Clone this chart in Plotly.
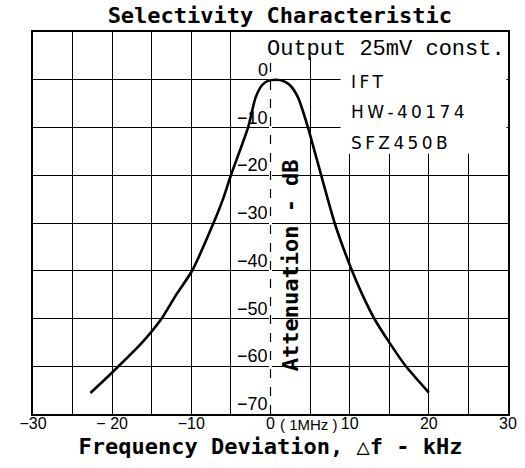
import plotly.graph_objects as go

# Curve data (kHz deviation, attenuation dB)
freq_khz = [-22.75, -20.0, -16.2, -13.75, -11.9, -9.9, -7.2, -6.0, -5.0, -2.8, -1.9, -1.1,
            -0.4, 0.65, 1.7, 2.5, 3.5, 4.7, 6.4, 8.1, 10.3, 11.6, 13.1, 15.0, 17.1, 20.0]
atten_db = [-65.6, -61.3, -55, -50, -45, -40, -30, -25, -20, -9.8, -3.8, -1.2,
            -0.3, 0, -0.3, -1.2, -3.8, -9.8, -20, -30, -40, -45, -50, -55, -60, -65.5]

x_tick_vals = [-30, -25, -20, -15, -10, -5, 0, 5, 10, 15, 20, 25, 30]
x_tick_text = ["−30", "", "− 20", "", "−10", "", "0", "", "10", "", "20", "", "30"]
y_label_vals = [0, -10, -20, -30, -40, -50, -60, -70]
y_label_text = ["0", "−10", "−20", "−30", "−40", "−50", "−60", "−70"]
legend_lines = ["IFT", "HW-40174", "SFZ450B"]
legend_levels = [-0.4, -6.7, -13.2]

MONO_B = "DejaVu Sans Mono"
MONO = "Liberation Mono"
SANS = "Liberation Sans"

fig = go.Figure()
fig.add_trace(go.Scatter(x=freq_khz, y=atten_db, mode="lines",
                         line=dict(color="black", width=2.6, shape="spline", smoothing=0.6),
                         hoverinfo="skip", showlegend=False))

shapes = [
    dict(type="rect", xref="x", yref="y", x0=-0.6, x1=29.8, y0=4.8, y1=10,
         fillcolor="white", line=dict(width=0), layer="between"),
    dict(type="rect", xref="x", yref="y", x0=8.85, x1=29.8, y0=-15.5, y1=10,
         fillcolor="white", line=dict(width=0), layer="between"),
    dict(type="line", xref="x", yref="y", x0=0, x1=0, y0=-70, y1=4.8,
         line=dict(color="white", width=3), layer="between"),
    dict(type="line", xref="x", yref="y", x0=0, x1=0, y0=-70, y1=4.8,
         line=dict(color="black", width=1.2, dash="dash"), layer="between"),
]

annotations = []
for v, t in zip(y_label_vals, y_label_text):
    annotations.append(dict(x=0, y=v, xref="x", yref="y", text=t, showarrow=False,
                            xanchor="right", yanchor="bottom", xshift=-1, yshift=-2,
                            font=dict(family=SANS, size=18, color="black")))
annotations.append(dict(x=0, y=0, xref="x", yref="paper", text="( 1MHz )", showarrow=False,
                        xanchor="left", yanchor="top", xshift=7, yshift=0,
                        font=dict(family=SANS, size=15, color="black")))
annotations.append(dict(x=29.9, y=6.3, xref="x", yref="y", text="Output 25mV const.",
                        showarrow=False, xanchor="right", yanchor="middle",
                        font=dict(family=MONO, size=22, color="black")))
for t, lv in zip(legend_lines, legend_levels):
    annotations.append(dict(x=9.9, y=lv, xref="x", yref="y", text="\u2009".join(t),
                            showarrow=False, xanchor="left", yanchor="middle",
                            font=dict(family="DejaVu Sans", size=17, color="black")))
annotations.append(dict(x=2.5, y=-38.8, xref="x", yref="y", text="<b>Attenuation - dB</b>",
                        showarrow=False, textangle=-90, xanchor="center", yanchor="middle",
                        font=dict(family=MONO_B, size=22, color="black")))

fig.update_layout(
    width=525, height=468,
    margin=dict(l=33, r=17, t=32, b=54, autoexpand=False),
    paper_bgcolor="white", plot_bgcolor="white",
    title=dict(text="<b>Selectivity Characteristic</b>", x=0.533, xanchor="center",
               y=1 - 15 / 468, yanchor="middle",
               font=dict(family=MONO_B, size=22, color="black")),
    xaxis=dict(range=[-30, 30], tickvals=x_tick_vals, ticktext=x_tick_text,
               showgrid=True, gridcolor="black", gridwidth=1.4, zeroline=False,
               showline=True, mirror=True, linecolor="black", linewidth=2,
               ticks="", automargin=False, ticklabelstandoff=-6,
               tickfont=dict(family=SANS, size=16, color="black"),
               title=dict(text="<b>Frequency Deviation, △f - kHz</b>", standoff=7,
                          font=dict(family=MONO_B, size=22, color="black"))),
    yaxis=dict(range=[-70, 10], dtick=10, tick0=0, showticklabels=False,
               showgrid=True, gridcolor="black", gridwidth=1.4, zeroline=False,
               showline=True, mirror=True, linecolor="black", linewidth=2, ticks="",
               automargin=False),
    shapes=shapes, annotations=annotations,
)

fig.write_html("out.html", config={"displayModeBar": False},
               post_script="document.body.style.margin='0';document.body.style.overflow='hidden';")
